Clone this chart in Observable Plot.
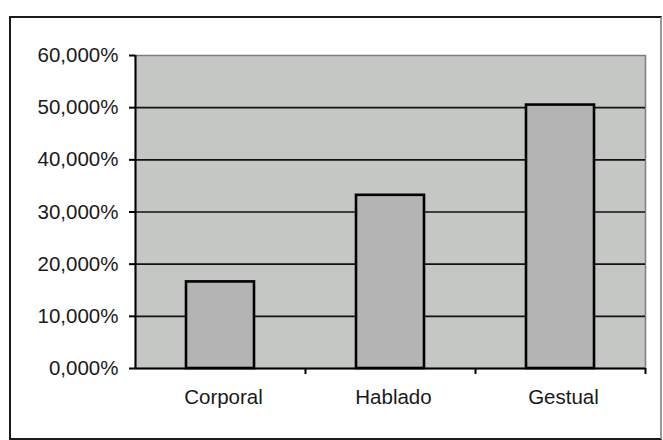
<!DOCTYPE html>
<html>
<head>
<meta charset="utf-8">
<script src="https://cdn.jsdelivr.net/npm/d3@7"></script>
<script src="https://cdn.jsdelivr.net/npm/@observablehq/plot@0.6"></script>
<style>
  html, body { margin: 0; padding: 0; background: #ffffff; }
  #wrap { position: relative; width: 663px; height: 440px; overflow: hidden; }
  #outer { position: absolute; left: 9px; top: 16px; width: 649px; height: 420px;
           border: 2px solid #1a1a1a; border-right-color: #9a9a9a; pointer-events: none; }
</style>
</head>
<body>
<div id="wrap"><div id="outer"></div></div>
<script>
const categories = ["Corporal", "Hablado", "Gestual"];
const values = [0.166, 0.332, 0.505];
const yTicks = [0, 0.1, 0.2, 0.3, 0.4, 0.5, 0.6];
const gridTicks = [0.1, 0.2, 0.3, 0.4, 0.5];
const boundaryTicks = [1, 2, 3];

const data = categories.map((c, i) => ({category: c, value: values[i], i}));
const fmt = d => (d * 100).toFixed(3).replace(".", ",") + "%";
const barFrac = 0.4; // Excel gap width 150%

const chart = Plot.plot({
  width: 663,
  height: 440,
  marginLeft: 135,
  marginRight: 18,
  marginTop: 55,
  marginBottom: 72,
  style: {background: "transparent", fontFamily: "'Liberation Sans', Arial, sans-serif", fontSize: "20.5px", color: "#1a1a1a"},
  x: {domain: [0, 3], axis: null},
  y: {domain: [0, 0.6], axis: null},
  marks: [
    Plot.frame({fill: "#c5c7c5", stroke: "#7d7d7d", strokeWidth: 1.5}),
    Plot.ruleY(gridTicks, {stroke: "#111", strokeWidth: 1.6}),
    Plot.rectY(data, {
      x1: d => d.i + (1 - barFrac) / 2,
      x2: d => d.i + (1 + barFrac) / 2,
      y: "value",
      fill: "#b4b4b4",
      stroke: "#000",
      strokeWidth: 2.6
    }),
    Plot.ruleY([0], {stroke: "#000", strokeWidth: 2}),
    Plot.ruleX([0], {stroke: "#000", strokeWidth: 2}),
    Plot.axisY(yTicks, {label: null, tickSize: 6, tickPadding: 11, tickFormat: fmt, stroke: "#000", strokeWidth: 2, fill: "#1a1a1a"}),
    Plot.axisX(boundaryTicks, {label: null, tickSize: 6, tickFormat: () => "", stroke: "#000", strokeWidth: 2}),
    Plot.text(data, {x: d => d.i + 0.5, y: 0, text: "category", dy: 29, dx: 3, fill: "#1a1a1a"})
  ]
});
chart.style.position = "absolute";
chart.style.left = "0px";
chart.style.top = "0px";
document.getElementById("wrap").prepend(chart);
</script>
</body>
</html>
